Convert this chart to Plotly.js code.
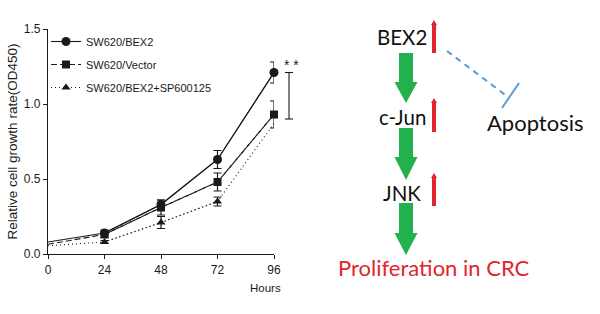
<!DOCTYPE html>
<html><head><meta charset="utf-8">
<script src="https://cdn.plot.ly/plotly-3.0.1.min.js"></script>
<style>html,body{margin:0;padding:0;background:#fff}#chart{width:600px;height:314px}</style>
</head><body><div id="chart"></div>
<script>
// ---- data ----
var hours = [0, 24, 48, 72, 96];
var xTickLabels = ['0', '24', '48', '72', '96'];
var yTickVals = [0, 0.5, 1.0, 1.5];
var yTickLabels = ['0.0', '0.5', '1.0', '1.5'];
var seriesNames = ['SW620/BEX2', 'SW620/Vector', 'SW620/BEX2+SP600125'];
var bex2 = [0.08, 0.14, 0.33, 0.63, 1.21];
var bex2Err = [0, 0.02, 0.03, 0.06, 0.07];
var vector = [0.065, 0.13, 0.31, 0.48, 0.93];
var vectorErr = [0, 0.02, 0.05, 0.06, 0.09];
var sp = [0.055, 0.08, 0.21, 0.35, 0.87];
var spErr = [0, 0.01, 0.04, 0.03, 0];
// which points carry a marker (first point and the hidden SP point at 96 h have none)
var bex2Marked = [false, true, true, true, true];
var vectorMarked = [false, true, true, true, true];
var spMarked = [false, true, true, true, false];
var sigTop = 1.21, sigBottom = 0.90, sigLabel = '* *';
var pathwayNodes = ['BEX2', 'c-Jun', 'JNK'];
var pathwayOutcome = 'Proliferation in CRC';
var inhibitedNode = 'Apoptosis';

// ---- helpers (pixel -> paper) ----
var W = 600, H = 314;
function px(x){ return x / W; }
function py(y){ return 1 - y / H; }
function pathPx(pts){ return pts.map(function(p,i){ return (i?'L':'M') + px(p[0]) + ',' + py(p[1]); }).join(' ') + ' Z'; }
function pick(arr, mask){ return arr.filter(function(_, i){ return mask[i]; }); }

var black = '#1a1a1a';
var data = [];
function addSeries(name, y, err, mask, dash, symbol, size){
  // continuous line through every point
  data.push({x: hours, y: y, type: 'scatter', mode: 'lines', showlegend: false, hoverinfo: 'skip',
    line: {color: black, width: 1.1, dash: dash}, cliponaxis: false});
  // markers with error bars (also the legend entry)
  data.push({x: pick(hours, mask), y: pick(y, mask), name: name, type: 'scatter', mode: 'lines+markers',
    line: {color: black, width: 1.1, dash: dash},
    marker: {color: black, symbol: symbol, size: size},
    error_y: {type: 'data', array: pick(err, mask), visible: true, color: black, thickness: 1.2, width: 4},
    cliponaxis: false, legendgroup: name});
}
addSeries(seriesNames[0], bex2, bex2Err, bex2Marked, 'solid', 'circle', 9);
addSeries(seriesNames[1], vector, vectorErr, vectorMarked, '6px,3px', 'square', 8);
addSeries(seriesNames[2], sp, spErr, spMarked, '1px,3px', 'triangle-up', 8);

var green = '#22B14C', red = '#E0262C', blue = '#5B9BD5';
var shapes = [];
var annotations = [];

// significance bracket
var bx = 289;
shapes.push({type:'line', xref:'paper', yref:'y', x0:px(bx), x1:px(bx), y0:sigTop, y1:sigBottom, line:{color:black, width:1.1}});
shapes.push({type:'line', xref:'paper', yref:'y', x0:px(bx-4), x1:px(bx+4), y0:sigTop, y1:sigTop, line:{color:black, width:1.1}});
shapes.push({type:'line', xref:'paper', yref:'y', x0:px(bx-4), x1:px(bx+4), y0:sigBottom, y1:sigBottom, line:{color:black, width:1.1}});
annotations.push({xref:'paper', yref:'y', x:px(291), y:1.26, text:sigLabel, showarrow:false, font:{family:'Liberation Sans, Arial', size:14, color:black}});

// Hours label
annotations.push({xref:'paper', yref:'paper', x:px(265), y:py(296), text:'Hours', showarrow:false, font:{family:'Liberation Sans, Arial', size:11.5, color:black}});

// pathway diagram
var nodeY = [37, 117, 193];
var diaFont = 'Lato, Noto Sans, sans-serif';
pathwayNodes.forEach(function(t, i){
  annotations.push({xref:'paper', yref:'paper', x:px(402), y:py(nodeY[i]), text:t, showarrow:false, xanchor:'center', yanchor:'middle', font:{family:diaFont, size:20.5, color:'#111'}});
});
annotations.push({xref:'paper', yref:'paper', x:px(434), y:py(267), text:pathwayOutcome, showarrow:false, xanchor:'center', yanchor:'middle', font:{family:diaFont, size:22, color:red}});
annotations.push({xref:'paper', yref:'paper', x:px(535), y:py(122), text:inhibitedNode, showarrow:false, xanchor:'center', yanchor:'middle', font:{family:diaFont, size:22, color:'#111'}});

// green arrows
var greenArrows = [[53, 82, 103], [128, 157, 180], [203, 233, 255]];
greenArrows.forEach(function(a){
  var cx = 406, bw = 7, hw = 11.5;
  shapes.push({type:'path', xref:'paper', yref:'paper', fillcolor:green, line:{width:0},
    path: pathPx([[cx-bw,a[0]],[cx+bw,a[0]],[cx+bw,a[1]],[cx+hw,a[1]],[cx,a[2]],[cx-hw,a[1]],[cx-bw,a[1]]])});
});
// red up arrows
var redArrows = [[20, 53], [98, 132], [173, 206]];
redArrows.forEach(function(a){
  var cx = 434, bw = 2, hw = 3;
  shapes.push({type:'path', xref:'paper', yref:'paper', fillcolor:red, line:{width:0},
    path: pathPx([[cx-bw,a[1]],[cx+bw,a[1]],[cx+bw,a[0]+5],[cx+hw,a[0]+5],[cx,a[0]],[cx-hw,a[0]+5],[cx-bw,a[0]+5]])});
});
// inhibition line
shapes.push({type:'line', xref:'paper', yref:'paper', x0:px(447), y0:py(51), x1:px(508), y1:py(97), line:{color:blue, width:2, dash:'6px,5px'}});
shapes.push({type:'line', xref:'paper', yref:'paper', x0:px(519), y0:py(83), x1:px(502), y1:py(108), line:{color:blue, width:2}});

var layout = {
  width: W, height: H,
  margin: {l:0, r:0, t:0, b:0},
  paper_bgcolor: '#fff', plot_bgcolor: 'rgba(0,0,0,0)',
  font: {family: 'Liberation Sans, Arial, sans-serif', size: 11, color: black},
  xaxis: {
    domain: [px(48), px(274)], range: [0, 96], tickvals: hours, ticktext: xTickLabels,
    showline: true, linecolor: black, linewidth: 1.1, ticks: 'outside', ticklen: 4, tickcolor: black,
    showgrid: false, zeroline: false, tickfont: {size: 12}, fixedrange: true
  },
  yaxis: {
    domain: [1 - 254/H, 1 - 29/H], range: [0, 1.5], tickvals: yTickVals, ticktext: yTickLabels,
    showline: true, linecolor: black, linewidth: 1.1, ticks: 'outside', ticklen: 4, tickcolor: black,
    showgrid: false, zeroline: false, tickfont: {size: 12},
    title: {text: 'Relative cell growth rate(OD450)', font: {size: 13.5}, standoff: 3}, fixedrange: true
  },
  showlegend: true,
  legend: {x: px(46), y: py(27), xanchor: 'left', yanchor: 'top', bgcolor: 'rgba(0,0,0,0)',
    font: {size: 11}, itemwidth: 30, tracegroupgap: 4, itemclick: false},
  shapes: shapes,
  annotations: annotations
};
Plotly.newPlot('chart', data, layout, {displayModeBar: false, staticPlot: true});
</script></body></html>
